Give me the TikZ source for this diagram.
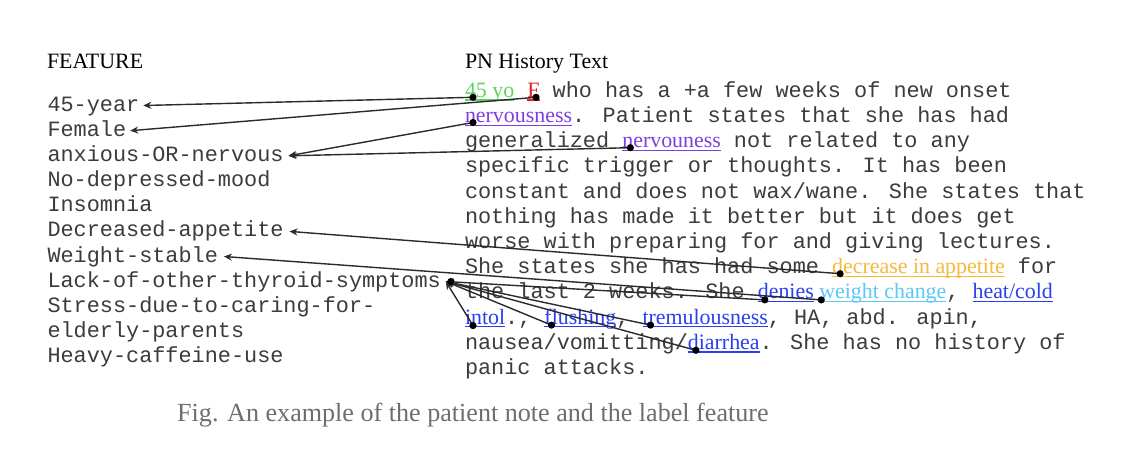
\documentclass[tikz,border=0pt]{standalone}
\usepackage{fontspec}
\setmainfont{Liberation Serif}
\newfontfamily\monofam{Liberation Mono}
\usetikzlibrary{arrows.meta}
\definecolor{txt}{HTML}{3C3C3C}
\definecolor{linec}{HTML}{2B2B2B}
\definecolor{cgreen}{HTML}{5FD35F}
\definecolor{cred}{HTML}{E02424}
\definecolor{cpurple}{HTML}{7F3FE0}
\definecolor{corange}{HTML}{F6B93B}
\definecolor{clblue}{HTML}{5CC8F8}
\definecolor{cblue}{HTML}{2A3FF0}
\definecolor{capgray}{HTML}{6E6E6E}
\tikzset{
  mono/.style={font=\monofam\fontsize{21.85}{26}\selectfont, text=txt, inner sep=0pt, outer sep=0pt, anchor=base west},
  serif/.style={font=\fontsize{21.9}{26}\selectfont, inner sep=0pt, outer sep=0pt, anchor=base west},
  hl/.style={serif, text=#1},
  head/.style={serif, text=black},
  capt/.style={font=\fontsize{26.1}{30}\selectfont, text=capgray, inner sep=0pt, anchor=base west},
  conn/.style={draw=linec, line width=1.4pt, -{Stealth[length=8pt,width=7pt]}},
  dotc/.style={fill=black}
}
\begin{document}
\begin{tikzpicture}[x=1pt,y=-1pt]
\useasboundingbox[fill=white] (0,0) rectangle (1128,464);

% headers
\node[head] (hfeat) at (47,68.3) {FEATURE};
\node[head] (hpn) at (465,68.3) {PN History Text};

% features
\node[mono] (fyear) at (47.5,111.0) {45-year};
\node[mono] (ffem)  at (47.5,136.2) {Female};
\node[mono] (fanx)  at (47.5,161.3) {anxious-OR-nervous};
\node[mono] (fdep)  at (47.5,186.5) {No-depressed-mood};
\node[mono] (fins)  at (47.5,211.7) {Insomnia};
\node[mono] (fapp)  at (47.5,236.9) {Decreased-appetite};
\node[mono] (fwt)   at (47.5,262.0) {Weight-stable};
\node[mono] (flack) at (47.5,287.0) {Lack-of-other-thyroid-symptoms};
\node[mono] (fstr1) at (47.5,312.4) {Stress-due-to-caring-for-};
\node[mono] (fstr2) at (47.5,337.5) {elderly-parents};
\node[mono] (fcaf)  at (47.5,362.7) {Heavy-caffeine-use};

% note text
\node[hl=cgreen] (w45) at (465,97.3) {45 yo};
\node[mono] (t1a) at (w45.base east) {\ \null};
\node[hl=cred] (wF) at (t1a.base east) {F};
\node[mono] (t1b) at (wF.base east) {\ who has a +a few weeks of new onset};

\node[hl=cpurple] (wn1) at (465,122.5) {nervousness};
\node[mono] (t2) at (wn1.base east) {. Patient states that she has had};

\node[mono] (t3a) at (465,147.7) {generalized\ \null};
\node[hl=cpurple] (wn2) at (t3a.base east) {nervouness};
\node[mono] (t3b) at (wn2.base east) {\ not related to any};

\node[mono] (t4) at (465,172.9) {specific trigger or thoughts. It has been};
\node[mono] (t5) at (465,198.1) {constant and does not wax/wane. She states that};
\node[mono] (t6) at (465,223.3) {nothing has made it better but it does get};
\node[mono] (t7) at (465,248.5) {worse with preparing for and giving lectures.};

\node[mono] (t8a) at (465,273.7) {She states she has had some\ \null};
\node[hl=corange] (wapp) at (t8a.base east) {decrease in appetite};
\node[mono] (t8b) at (wapp.base east) {\ for};

\node[mono] (t9a) at (465,298.9) {the last 2 weeks. She\ \null};
\node[hl=cblue] (wden) at (t9a.base east) {denies};
\node[serif] (t9s) at (wden.base east) {\ \null};
\node[hl=clblue] (wwt) at (t9s.base east) {weight change};
\node[mono] (t9b) at (wwt.base east) {,\ \null};
\node[hl=cblue] (wheat) at (t9b.base east) {heat/cold};

\node[hl=cblue] (wint) at (465,324.1) {intol};
\node[mono] (t10a) at (wint.base east) {.,\ \null};
\node[hl=cblue] (wflu) at (t10a.base east) {flushing};
\node[mono] (t10b) at (wflu.base east) {,\ \null};
\node[hl=cblue] (wtrem) at (t10b.base east) {tremulousness};
\node[mono] (t10c) at (wtrem.base east) {, HA, abd. apin,};

\node[mono] (t11a) at (465,349.3) {nausea/vomitting/};
\node[hl=cblue] (wdia) at (t11a.base east) {diarrhea};
\node[mono] (t11b) at (wdia.base east) {. She has no history of};

\node[mono] (t12) at (465,374.5) {panic attacks.};

% underlines
\foreach \n/\c in {w45/cgreen, wF/cred, wn1/cpurple, wn2/cpurple, wapp/corange,
  wden/cblue, wwt/clblue, wheat/cblue, wint/cblue, wflu/cblue, wtrem/cblue, wdia/cblue}
  \draw[\c, line width=1.2pt] ([yshift=-2.6pt]\n.base west) -- ([yshift=-2.6pt]\n.base east);

% anchor points on words
\coordinate (p45)  at ([xshift=8pt]w45.base west);
\coordinate (pF)   at ([xshift=-3.5pt]wF.base east);
\coordinate (pn1)  at ([xshift=8pt]wn1.base west);
\coordinate (pn2)  at ([xshift=8pt]wn2.base west);
\coordinate (papp) at ([xshift=8pt]wapp.base west);
\coordinate (pwt)  at ([xshift=2pt,yshift=-1pt]wwt.base west);
\coordinate (pden) at ([xshift=7pt,yshift=-1pt]wden.base west);
\coordinate (pint) at ([xshift=8pt,yshift=-1.5pt]wint.base west);
\coordinate (pflu) at ([xshift=7pt,yshift=-1pt]wflu.base west);
\coordinate (ptrem) at ([xshift=8pt,yshift=-1pt]wtrem.base west);
\coordinate (pdia) at ([xshift=8pt,yshift=-1pt]wdia.base west);

% arrow targets on features
\coordinate (ayear) at ([shift={(4,-5.5)}]fyear.base east);
\coordinate (afem)  at ([shift={(4,-5.5)}]ffem.base east);
\coordinate (aanx)  at ([shift={(5,-5.5)}]fanx.base east);
\coordinate (aapp)  at ([shift={(6,-5.5)}]fapp.base east);
\coordinate (awt)   at ([shift={(6,-5.5)}]fwt.base east);
\coordinate (alack) at ([shift={(5,-5.5)}]flack.base east);

% connectors
\draw[conn] (p45) -- (ayear);
\draw[conn] (pF) -- (afem);
\draw[conn] (pn1) -- (aanx);
\draw[conn] (pn2) -- (aanx);
\draw[conn] (papp) -- (aapp);
\draw[conn] (pwt) -- (awt);
\draw[conn] (pden) -- (alack);
\draw[conn] (pint) -- (alack);
\draw[conn] (pflu) -- (alack);
\draw[conn] (ptrem) -- (alack);
\draw[conn] (pdia) -- (alack);

% dots
\foreach \p in {p45,pF,pn1,pn2,papp,pwt,pden,pint,pflu,ptrem,pdia}
  \fill[dotc] (\p) circle (3.6);
\fill[dotc] ([xshift=5pt]alack) circle (3.6);

% caption
\node[capt] (cap) at (177,421) {Fig. An example of the patient note and the label feature};
\end{tikzpicture}
\end{document}
